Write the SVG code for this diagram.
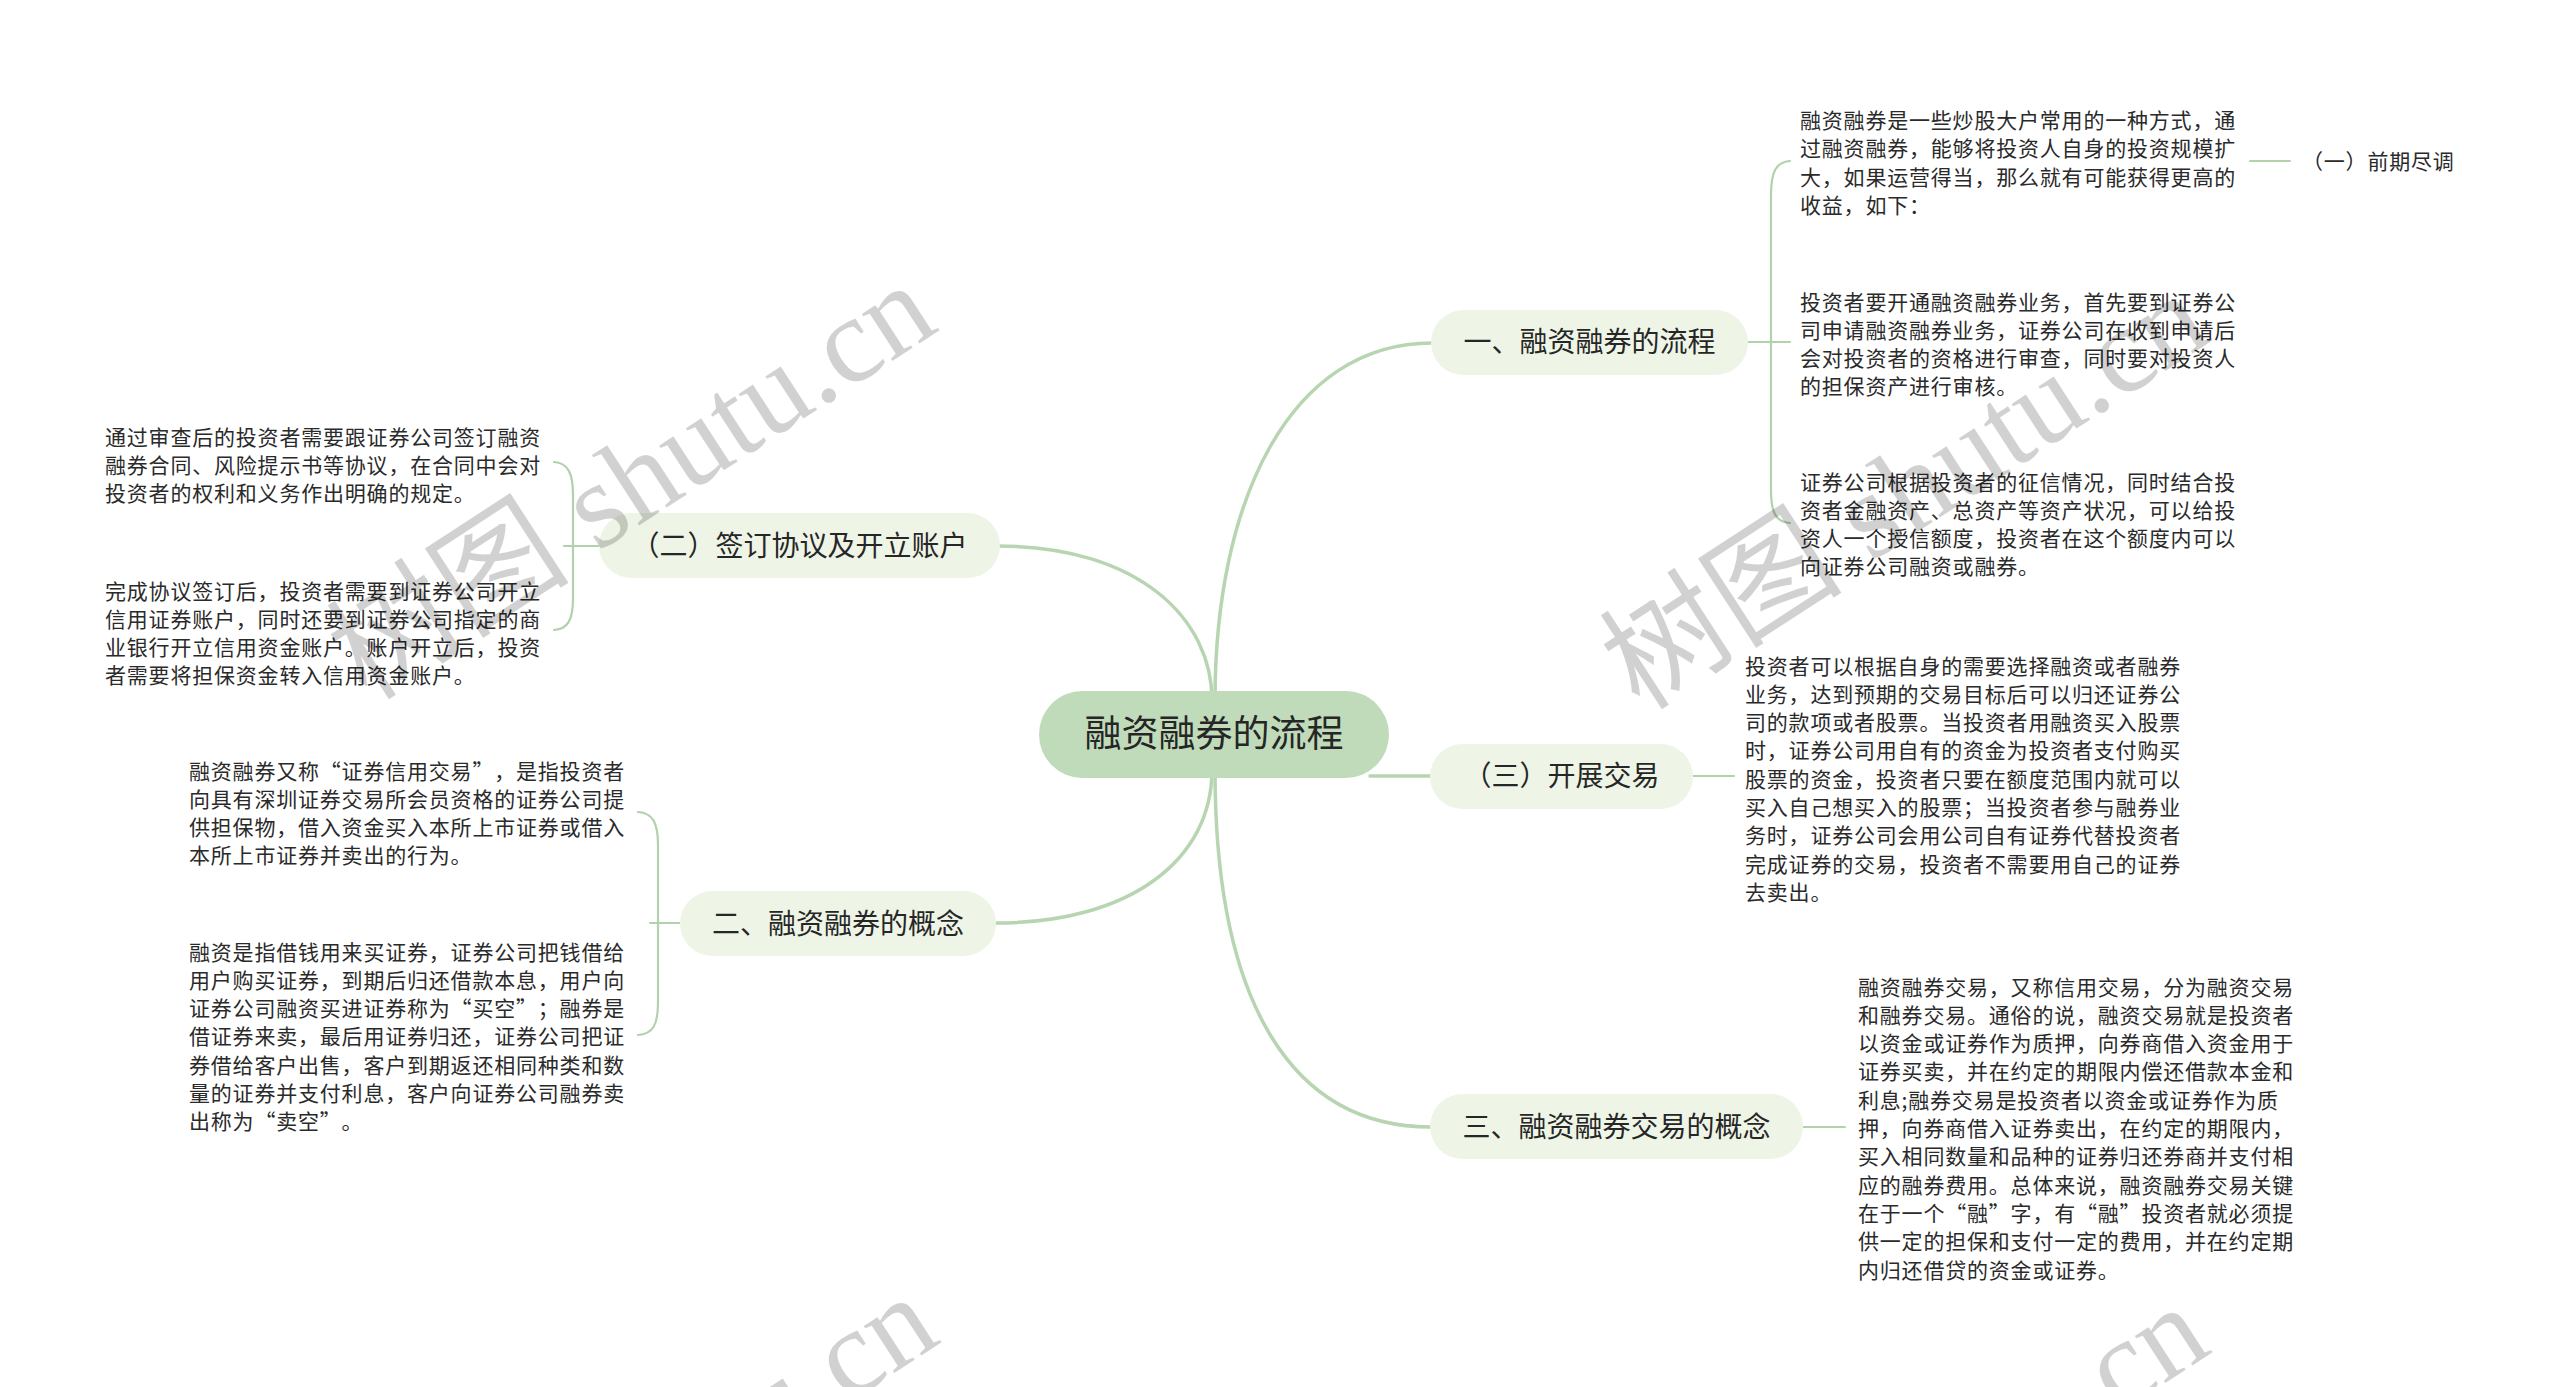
<svg xmlns="http://www.w3.org/2000/svg" width="2560" height="1387" viewBox="0 0 2560 1387">
<style>
.bg{fill:#ffffff}
.root{fill:#c0dbb9}
.br{fill:#eef5e6}
.rt{font-family:"Noto Sans CJK SC","Liberation Sans",sans-serif;font-size:37px;fill:#262626;text-anchor:middle}
.bt{font-family:"Noto Sans CJK SC","Liberation Sans",sans-serif;font-size:28px;fill:#262626;text-anchor:middle}
.tx{font-family:"Noto Sans CJK SC","Liberation Sans",sans-serif;font-size:21px;letter-spacing:0.8px;fill:#2a2a2a;text-spacing-trim:space-all;font-feature-settings:"chws" 0,"halt" 0}
.main{fill:none;stroke:#b8d5b2;stroke-width:3.5;stroke-linecap:round}
.sub{fill:none;stroke:#b3d1ad;stroke-width:2.2;stroke-linecap:round}
.wm{font-family:"Liberation Serif","Noto Sans CJK SC",serif;font-size:122px;fill:#000;fill-opacity:0.18}
</style>
<rect class="bg" x="0" y="0" width="2560" height="1387"/>
<g id="connectors">
<path class="main" d="M1212,700 C1212,620 1140,546 998,546"/>
<path class="main" d="M1215,700 C1215,500 1290,343 1432,343"/>
<path class="main" d="M1212,770 C1212,860 1130,923 996,923"/>
<path class="main" d="M1215,770 C1215,1000 1290,1127 1431,1127"/>
<path class="main" d="M1370,776 L1431,776"/>
<path class="sub" d="M1748,342 L1790,342"/>
<path class="sub" d="M1790,161 C1776,162 1771,172 1771,195 L1771,490 C1771,513 1776,522 1790,523"/>
<path class="sub" d="M2250,161 L2290,161"/>
<path class="sub" d="M1693,776 L1734,776"/>
<path class="sub" d="M1803,1127 L1845,1127"/>
<path class="sub" d="M599,546 L564,546"/>
<path class="sub" d="M554,462 C568,463 573,473 573,495 L573,598 C573,620 568,629 554,630"/>
<path class="sub" d="M680,923 L650,923"/>
<path class="sub" d="M638,812 C653,813 658,823 658,845 L658,1002 C658,1025 653,1034 638,1035"/>
</g>
<g id="root">
<rect class="root" x="1039" y="691" width="350" height="87" rx="43.5"/>
<text class="rt" x="1214" y="747">融资融券的流程</text>
</g>
<g id="b1">
<rect class="br" x="1431" y="310" width="317" height="65" rx="32.5"/>
<text class="bt" x="1589.5" y="352">一、融资融券的流程</text>
</g>
<g id="b1c1">
<text class="tx" x="1800" y="128"><tspan x="1800">融资融券是一些炒股大户常用的一种方式，通</tspan><tspan x="1800" dy="28.3">过融资融券，能够将投资人自身的投资规模扩</tspan><tspan x="1800" dy="28.3">大，如果运营得当，那么就有可能获得更高的</tspan><tspan x="1800" dy="28.3">收益，如下：</tspan></text>
</g>
<g id="b1c1a">
<text class="tx" x="2302" y="169">（一）前期尽调</text>
</g>
<g id="b1c2">
<text class="tx" x="1800" y="309.5"><tspan x="1800">投资者要开通融资融券业务，首先要到证券公</tspan><tspan x="1800" dy="28.3">司申请融资融券业务，证券公司在收到申请后</tspan><tspan x="1800" dy="28.3">会对投资者的资格进行审查，同时要对投资人</tspan><tspan x="1800" dy="28.3">的担保资产进行审核。</tspan></text>
</g>
<g id="b1c3">
<text class="tx" x="1800" y="489.5"><tspan x="1800">证券公司根据投资者的征信情况，同时结合投</tspan><tspan x="1800" dy="28.3">资者金融资产、总资产等资产状况，可以给投</tspan><tspan x="1800" dy="28.3">资人一个授信额度，投资者在这个额度内可以</tspan><tspan x="1800" dy="28.3">向证券公司融资或融券。</tspan></text>
</g>
<g id="b2">
<rect class="br" x="1430" y="744" width="263" height="65" rx="32.5"/>
<text class="bt" x="1561.5" y="786">（三）开展交易</text>
</g>
<g id="b2c1">
<text class="tx" x="1745" y="673.5"><tspan x="1745">投资者可以根据自身的需要选择融资或者融券</tspan><tspan x="1745" dy="28.3">业务，达到预期的交易目标后可以归还证券公</tspan><tspan x="1745" dy="28.3">司的款项或者股票。当投资者用融资买入股票</tspan><tspan x="1745" dy="28.3">时，证券公司用自有的资金为投资者支付购买</tspan><tspan x="1745" dy="28.3">股票的资金，投资者只要在额度范围内就可以</tspan><tspan x="1745" dy="28.3">买入自己想买入的股票；当投资者参与融券业</tspan><tspan x="1745" dy="28.3">务时，证券公司会用公司自有证券代替投资者</tspan><tspan x="1745" dy="28.3">完成证券的交易，投资者不需要用自己的证券</tspan><tspan x="1745" dy="28.3">去卖出。</tspan></text>
</g>
<g id="b3">
<rect class="br" x="1430" y="1094" width="373" height="65" rx="32.5"/>
<text class="bt" x="1616.5" y="1136.5">三、融资融券交易的概念</text>
</g>
<g id="b3c1">
<text class="tx" x="1858" y="994.5"><tspan x="1858">融资融券交易，又称信用交易，分为融资交易</tspan><tspan x="1858" dy="28.3">和融券交易。通俗的说，融资交易就是投资者</tspan><tspan x="1858" dy="28.3">以资金或证券作为质押，向券商借入资金用于</tspan><tspan x="1858" dy="28.3">证券买卖，并在约定的期限内偿还借款本金和</tspan><tspan x="1858" dy="28.3">利息;融券交易是投资者以资金或证券作为质</tspan><tspan x="1858" dy="28.3">押，向券商借入证券卖出，在约定的期限内，</tspan><tspan x="1858" dy="28.3">买入相同数量和品种的证券归还券商并支付相</tspan><tspan x="1858" dy="28.3">应的融券费用。总体来说，融资融券交易关键</tspan><tspan x="1858" dy="28.3">在于一个“融”字，有“融”投资者就必须提</tspan><tspan x="1858" dy="28.3">供一定的担保和支付一定的费用，并在约定期</tspan><tspan x="1858" dy="28.3">内归还借贷的资金或证券。</tspan></text>
</g>
<g id="b4">
<rect class="br" x="599" y="513" width="401" height="65" rx="32.5"/>
<text class="bt" x="799.5" y="555.5">（二）签订协议及开立账户</text>
</g>
<g id="b4c1">
<text class="tx" x="105" y="444.5"><tspan x="105">通过审查后的投资者需要跟证券公司签订融资</tspan><tspan x="105" dy="28.3">融券合同、风险提示书等协议，在合同中会对</tspan><tspan x="105" dy="28.3">投资者的权利和义务作出明确的规定。</tspan></text>
</g>
<g id="b4c2">
<text class="tx" x="105" y="598.5"><tspan x="105">完成协议签订后，投资者需要到证券公司开立</tspan><tspan x="105" dy="28.3">信用证券账户，同时还要到证券公司指定的商</tspan><tspan x="105" dy="28.3">业银行开立信用资金账户。账户开立后，投资</tspan><tspan x="105" dy="28.3">者需要将担保资金转入信用资金账户。</tspan></text>
</g>
<g id="b5">
<rect class="br" x="680" y="891" width="316" height="65" rx="32.5"/>
<text class="bt" x="838" y="933.5">二、融资融券的概念</text>
</g>
<g id="b5c1">
<text class="tx" x="189" y="778.5"><tspan x="189">融资融券又称“证券信用交易”，是指投资者</tspan><tspan x="189" dy="28.3">向具有深圳证券交易所会员资格的证券公司提</tspan><tspan x="189" dy="28.3">供担保物，借入资金买入本所上市证券或借入</tspan><tspan x="189" dy="28.3">本所上市证券并卖出的行为。</tspan></text>
</g>
<g id="b5c2">
<text class="tx" x="189" y="959.5"><tspan x="189">融资是指借钱用来买证券，证券公司把钱借给</tspan><tspan x="189" dy="28.3">用户购买证券，到期后归还借款本息，用户向</tspan><tspan x="189" dy="28.3">证券公司融资买进证券称为“买空”；融券是</tspan><tspan x="189" dy="28.3">借证券来卖，最后用证券归还，证券公司把证</tspan><tspan x="189" dy="28.3">券借给客户出售，客户到期返还相同种类和数</tspan><tspan x="189" dy="28.3">量的证券并支付利息，客户向证券公司融券卖</tspan><tspan x="189" dy="28.3">出称为“卖空”。</tspan></text>
</g>
<g id="watermarks">
<text class="wm" x="367" y="702" transform="rotate(-33 367 702)">树图 shutu.cn</text>
<text class="wm" x="1640" y="712" transform="rotate(-33 1640 712)">树图 shutu.cn</text>
<text class="wm" x="369" y="1714" transform="rotate(-33 369 1714)">树图 shutu.cn</text>
<text class="wm" x="1640" y="1724" transform="rotate(-33 1640 1724)">树图 shutu.cn</text>
</g>
</svg>
